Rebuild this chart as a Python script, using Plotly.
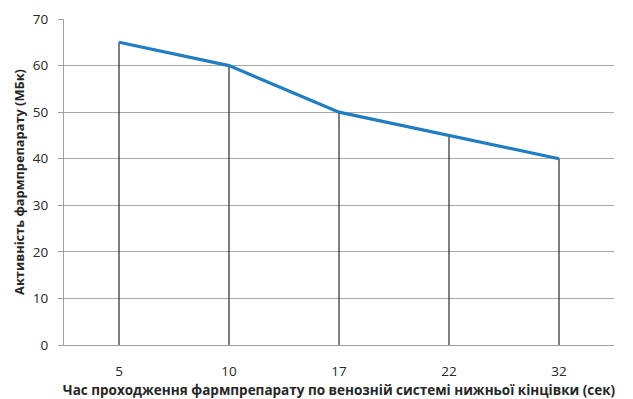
import plotly.graph_objects as go

categories = ["5", "10", "17", "22", "32"]
activity = [65, 60, 50, 45, 40]
y_ticks = [0, 10, 20, 30, 40, 50, 60, 70]

x_title = "Час проходження фармпрепарату по венозній системі нижньої кінцівки (сек)"
y_title = "Активність фармпрепарату (МБк)"

drop_x, drop_y = [], []
for c, v in zip(categories, activity):
    drop_x += [c, c, None]
    drop_y += [0, v, None]

fig = go.Figure()
fig.add_trace(go.Scatter(x=drop_x, y=drop_y, mode="lines",
                         line=dict(color="#000000", width=1), hoverinfo="skip",
                         showlegend=False))
fig.add_trace(go.Scatter(x=categories, y=activity, mode="lines",
                         line=dict(color="#1F7DC4", width=3.2), showlegend=False))

font_family = "Open Sans, Liberation Sans, sans-serif"
fig.update_layout(
    width=633, height=399,
    margin=dict(l=64, r=19, t=19, b=54),
    paper_bgcolor="white", plot_bgcolor="white",
    font=dict(family=font_family, color="#404040", size=12),
    xaxis=dict(type="category", categoryorder="array", categoryarray=categories,
               range=[-0.5, 4.5], showgrid=False, showline=True, automargin=False,
               linecolor="#A0A0A0", linewidth=1, ticks="", ticklabelstandoff=14,
               zeroline=False,
               tickfont=dict(size=13.5, color="#262626"),
               title=dict(text="<b>" + x_title + "</b>", standoff=10,
                          font=dict(size=13.5, color="#262626"))),
    yaxis=dict(range=[0, 70], tickvals=y_ticks, showgrid=True, automargin=False,
               gridcolor="#A8A8A8", gridwidth=1, showline=True,
               linecolor="#A0A0A0", linewidth=1, ticks="outside", ticklen=5,
               tickcolor="#A0A0A0", zeroline=False, ticklabelstandoff=7,
               tickfont=dict(size=13.5, color="#262626"),
               title=dict(text="<b>" + y_title + "</b>", standoff=5,
                          font=dict(size=12.8, color="#262626"))),
)
fig.write_html("out.html")
